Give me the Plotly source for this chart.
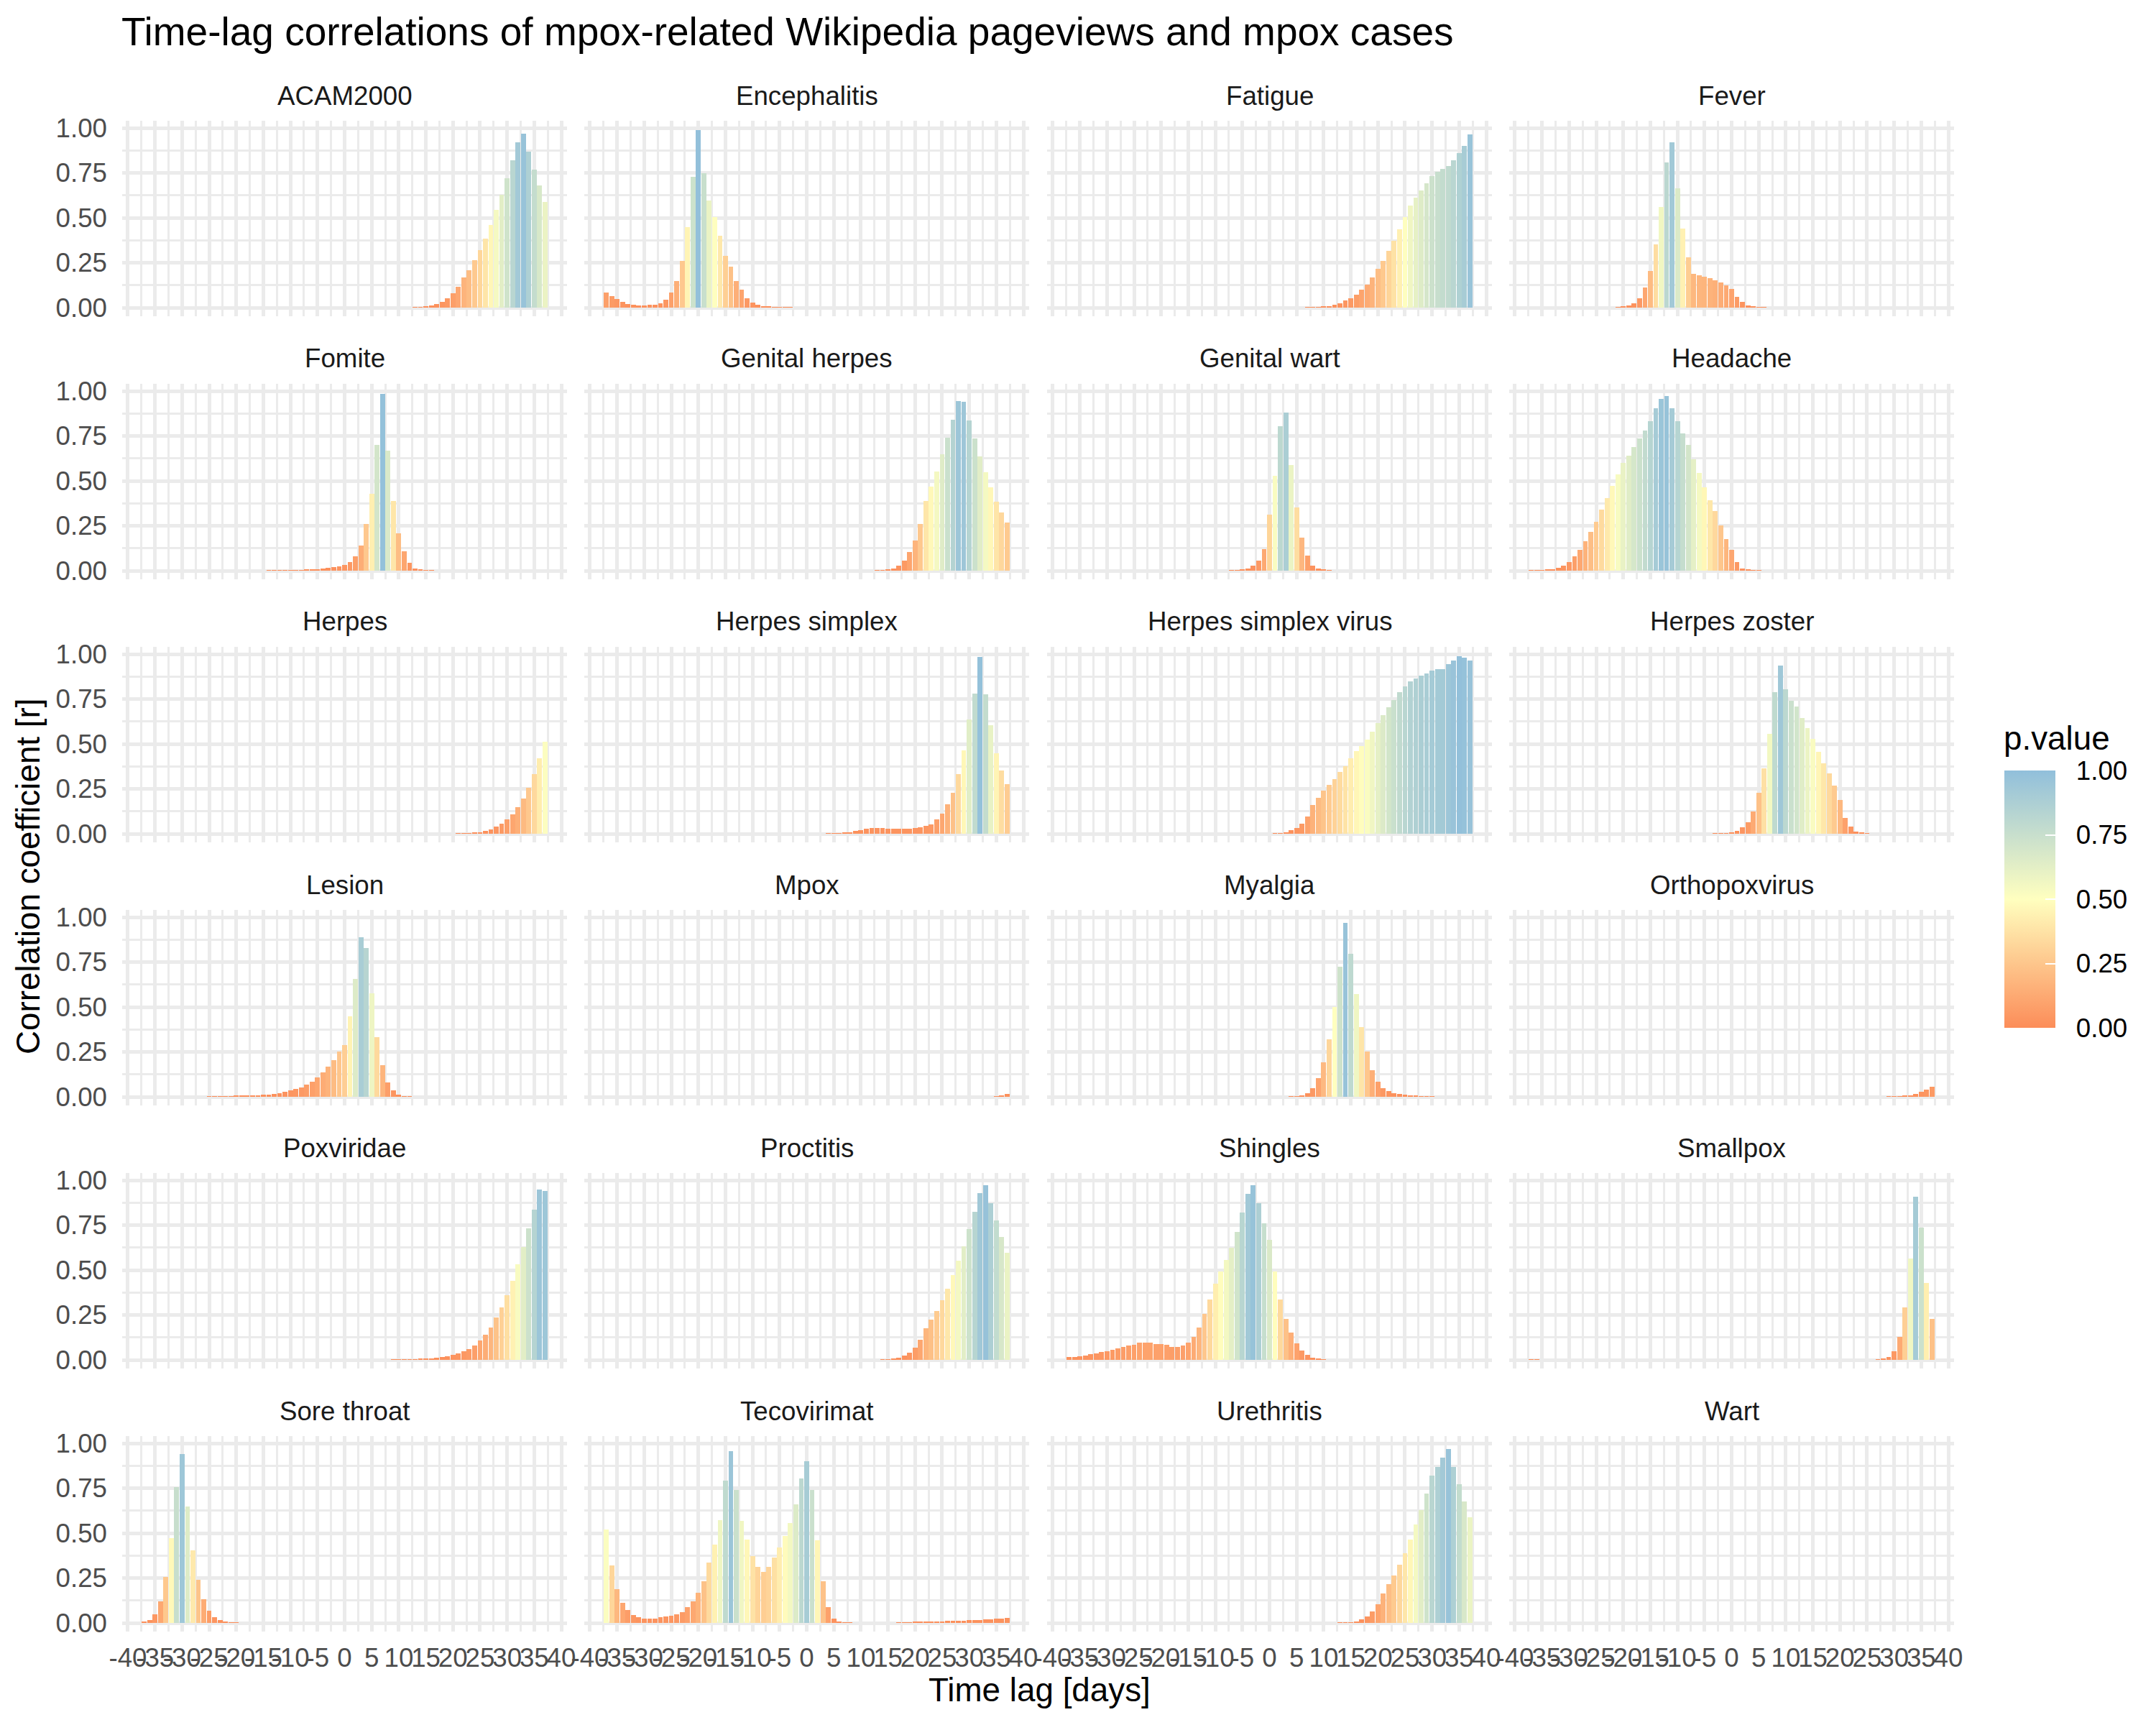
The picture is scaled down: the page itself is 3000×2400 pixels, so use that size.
import plotly.graph_objects as go

# ---------------- data ----------------
LAGS = list(range(-37, 38))  # time lag in days

X_TICKS = [-40, -35, -30, -25, -20, -15, -10, -5, 0, 5, 10, 15, 20, 25, 30, 35, 40]
X_TICK_LABELS = ["-40", "-35", "-30", "-25", "-20", "-15", "-10", "-5", "0",
                 "5", "10", "15", "20", "25", "30", "35", "40"]
Y_TICKS = [0.0, 0.25, 0.5, 0.75, 1.0]
Y_TICK_LABELS = ["0.00", "0.25", "0.50", "0.75", "1.00"]

acam2000 = [0.0] * 50 + [0.001, 0.003, 0.006, 0.012, 0.02, 0.033, 0.054, 0.08, 0.116, 0.17,
                         0.21, 0.265, 0.32, 0.385, 0.46, 0.545, 0.63, 0.72, 0.82, 0.92,
                         0.97, 0.87, 0.77, 0.68, 0.59]
encephalitis = [0.083, 0.066, 0.048, 0.033, 0.021, 0.016, 0.014, 0.014, 0.016, 0.018, 0.025,
                0.043, 0.083, 0.15, 0.26, 0.45, 0.73, 0.99, 0.75, 0.595, 0.506, 0.40, 0.29,
                0.227, 0.15, 0.10, 0.054, 0.03, 0.017, 0.01, 0.006, 0.004, 0.003, 0.002,
                0.001] + [0.0] * 40
fatigue = [0.0] * 44 + [0.001, 0.002, 0.003, 0.006, 0.01, 0.017, 0.025, 0.039, 0.054, 0.074,
                        0.099, 0.13, 0.167, 0.215, 0.262, 0.316, 0.374, 0.436, 0.504, 0.568,
                        0.612, 0.651, 0.692, 0.733, 0.756, 0.773, 0.787, 0.82, 0.862, 0.90,
                        0.963]
fever = [0.0] * 16 + [0.002, 0.005, 0.012, 0.025, 0.054, 0.112, 0.203, 0.351, 0.562, 0.81,
                      0.922, 0.663, 0.44, 0.279, 0.188, 0.18, 0.174, 0.165, 0.153, 0.141,
                      0.124, 0.103, 0.062, 0.031, 0.014, 0.007, 0.003, 0.001] + [0.0] * 31
fomite = [0.0] * 23 + [0.001, 0.001, 0.001, 0.002, 0.002, 0.003, 0.004, 0.005, 0.007, 0.009,
                       0.012, 0.015, 0.019, 0.025, 0.033, 0.05, 0.08, 0.14, 0.26, 0.43,
                       0.70, 0.986, 0.67, 0.39, 0.21, 0.11, 0.043, 0.014, 0.005, 0.002,
                       0.001] + [0.0] * 21
genital_herpes = [0.0] * 50 + [0.001, 0.003, 0.006, 0.013, 0.027, 0.056, 0.105, 0.17, 0.26,
                               0.39, 0.469, 0.552, 0.647, 0.742, 0.84, 0.946, 0.942, 0.837,
                               0.735, 0.637, 0.548, 0.465, 0.386, 0.326, 0.267]
genital_wart = [0.0] * 30 + [0.001, 0.002, 0.005, 0.012, 0.027, 0.058, 0.122, 0.314, 0.527,
                             0.804, 0.882, 0.589, 0.353, 0.186, 0.085, 0.027, 0.012, 0.005,
                             0.002] + [0.0] * 26
headache = [0.001, 0.002, 0.004, 0.006, 0.01, 0.017, 0.029, 0.05, 0.079, 0.118, 0.165, 0.217,
            0.273, 0.339, 0.405, 0.471, 0.535, 0.599, 0.64, 0.69, 0.738, 0.779, 0.831, 0.905,
            0.957, 0.971, 0.905, 0.831, 0.764, 0.70, 0.62, 0.546, 0.463, 0.393, 0.331, 0.252,
            0.178, 0.116, 0.048, 0.014, 0.005, 0.002, 0.001] + [0.0] * 32
herpes = [0.0] * 58 + [0.001, 0.002, 0.004, 0.006, 0.01, 0.017, 0.025, 0.039, 0.056, 0.079,
                       0.11, 0.147, 0.198, 0.258, 0.331, 0.419, 0.514]
herpes_simplex = [0.0] * 41 + [0.001, 0.002, 0.004, 0.006, 0.01, 0.016, 0.021, 0.027, 0.031,
                               0.032, 0.031, 0.03, 0.029, 0.029, 0.029, 0.03, 0.032, 0.036,
                               0.043, 0.054, 0.079, 0.114, 0.163, 0.229, 0.333, 0.463, 0.636,
                               0.78, 0.986, 0.775, 0.605, 0.45, 0.353, 0.277]
herpes_simplex_virus = [0.0] * 38 + [0.002, 0.004, 0.01, 0.019, 0.033, 0.056, 0.095, 0.161,
                                     0.2, 0.24, 0.273, 0.304, 0.343, 0.376, 0.422, 0.459,
                                     0.49, 0.525, 0.568, 0.618, 0.661, 0.703, 0.744, 0.787,
                                     0.82, 0.849, 0.864, 0.88, 0.893, 0.907, 0.917, 0.917,
                                     0.946, 0.965, 0.99, 0.98, 0.965]
herpes_zoster = [0.0] * 34 + [0.001, 0.002, 0.004, 0.008, 0.017, 0.037, 0.064, 0.126, 0.229,
                              0.366, 0.558, 0.79, 0.936, 0.804, 0.742, 0.707, 0.643, 0.587,
                              0.529, 0.455, 0.393, 0.335, 0.267, 0.19, 0.087, 0.039, 0.014,
                              0.005, 0.002] + [0.0] * 12
lesion = [0.0] * 12 + [0.001, 0.001, 0.002, 0.003, 0.004, 0.005, 0.006, 0.007, 0.008, 0.01,
                       0.012, 0.014, 0.017, 0.021, 0.027, 0.035, 0.043, 0.054, 0.068, 0.085,
                       0.109, 0.136, 0.167, 0.205, 0.252, 0.287, 0.448, 0.655, 0.89, 0.828,
                       0.576, 0.333, 0.176, 0.081, 0.035, 0.012, 0.004, 0.001] + [0.0] * 25
mpox = [0.0] * 72 + [0.002, 0.006, 0.016]
myalgia = [0.0] * 41 + [0.001, 0.003, 0.008, 0.021, 0.05, 0.103, 0.194, 0.322, 0.502, 0.723,
                        0.967, 0.795, 0.572, 0.388, 0.252, 0.147, 0.085, 0.05, 0.031, 0.021,
                        0.016, 0.012, 0.009, 0.006, 0.004, 0.002, 0.001] + [0.0] * 7
orthopoxvirus = [0.0] * 66 + [0.001, 0.002, 0.003, 0.006, 0.01, 0.017, 0.027, 0.041, 0.056]
poxviridae = [0.0] * 46 + [0.001, 0.001, 0.002, 0.003, 0.004, 0.005, 0.007, 0.009, 0.012,
                           0.015, 0.019, 0.027, 0.035, 0.047, 0.062, 0.081, 0.11, 0.141, 0.182,
                           0.236, 0.293, 0.36, 0.44, 0.531, 0.63, 0.731, 0.835, 0.95, 0.94]
proctitis = [0.0] * 51 + [0.001, 0.003, 0.007, 0.014, 0.023, 0.041, 0.068, 0.112, 0.178,
                          0.223, 0.271, 0.331, 0.395, 0.471, 0.552, 0.634, 0.729, 0.826, 0.928,
                          0.973, 0.874, 0.777, 0.684, 0.595]
shingles = [0.016, 0.017, 0.019, 0.025, 0.031, 0.037, 0.043, 0.048, 0.056, 0.064, 0.072, 0.079,
            0.085, 0.095, 0.097, 0.095, 0.087, 0.089, 0.085, 0.074, 0.074, 0.081, 0.095, 0.13,
            0.18, 0.256, 0.335, 0.424, 0.492, 0.556, 0.624, 0.713, 0.822, 0.924, 0.971, 0.874,
            0.76, 0.669, 0.492, 0.335, 0.229, 0.151, 0.093, 0.054, 0.027, 0.014, 0.006,
            0.002] + [0.0] * 27
smallpox = [0.004, 0.002] + [0.0] * 62 + [0.002, 0.006, 0.017, 0.048, 0.128, 0.291, 0.566,
                                          0.909, 0.736, 0.428, 0.227]
sore_throat = [0.006, 0.016, 0.049, 0.12, 0.257, 0.473, 0.756, 0.94, 0.65, 0.405, 0.241, 0.134,
               0.068, 0.033, 0.016, 0.007, 0.003, 0.001] + [0.0] * 57
tecovirimat = [0.519, 0.32, 0.188, 0.112, 0.072, 0.043, 0.031, 0.025, 0.023, 0.023, 0.031,
               0.035, 0.041, 0.05, 0.062, 0.089, 0.12, 0.169, 0.231, 0.337, 0.438, 0.572, 0.791,
               0.955, 0.74, 0.57, 0.465, 0.374, 0.312, 0.283, 0.312, 0.364, 0.422, 0.484, 0.556,
               0.659, 0.806, 0.899, 0.742, 0.461, 0.234, 0.087, 0.023, 0.008, 0.003,
               0.001] + [0.0] * 8 + [0.002, 0.003, 0.004, 0.005, 0.006, 0.007, 0.008, 0.009,
                                     0.01, 0.011, 0.012, 0.013, 0.014, 0.015, 0.016, 0.018,
                                     0.019, 0.021, 0.023, 0.025, 0.027]
urethritis = [0.0] * 50 + [0.001, 0.002, 0.004, 0.01, 0.019, 0.035, 0.064, 0.105, 0.163, 0.215,
                           0.266, 0.326, 0.39, 0.463, 0.548, 0.63, 0.721, 0.82, 0.87, 0.92,
                           0.967, 0.87, 0.771, 0.678, 0.589]
wart = [0.0] * 75

TERMS = ["ACAM2000", "Encephalitis", "Fatigue", "Fever",
         "Fomite", "Genital herpes", "Genital wart", "Headache",
         "Herpes", "Herpes simplex", "Herpes simplex virus", "Herpes zoster",
         "Lesion", "Mpox", "Myalgia", "Orthopoxvirus",
         "Poxviridae", "Proctitis", "Shingles", "Smallpox",
         "Sore throat", "Tecovirimat", "Urethritis", "Wart"]
SERIES = [acam2000, encephalitis, fatigue, fever,
          fomite, genital_herpes, genital_wart, headache,
          herpes, herpes_simplex, herpes_simplex_virus, herpes_zoster,
          lesion, mpox, myalgia, orthopoxvirus,
          poxviridae, proctitis, shingles, smallpox,
          sore_throat, tecovirimat, urethritis, wart]

TITLE = "Time-lag correlations of mpox-related Wikipedia pageviews and mpox cases"
X_TITLE = "Time lag [days]"
Y_TITLE = "Correlation coefficient [r]"
LEGEND_TITLE = "p.value"

for s in SERIES:
    assert len(s) == len(LAGS)

# ---------------- layout geometry ----------------
W, H = 3000, 2400
NCOL, NROW = 4, 6
COL_LEFT = [170, 813, 1457, 2100]
PANEL_W = 619
ROW_TOP0, ROW_PITCH, PANEL_H = 168, 366, 272
FONT = "Liberation Sans, Arial, Helvetica, sans-serif"
GRID = "#EBEBEB"
COLORSCALE = [[0.0, "#FC8D59"], [0.5, "#FFFFBF"], [1.0, "#91BFDB"]]

X_MINOR = [(a + b) / 2 for a, b in zip(X_TICKS[:-1], X_TICKS[1:])]
Y_MINOR = [(a + b) / 2 for a, b in zip(Y_TICKS[:-1], Y_TICKS[1:])]

fig = go.Figure()
layout = {}
annotations = []

for i, (name, vals) in enumerate(zip(TERMS, SERIES)):
    r, c = divmod(i, NCOL)
    n = i + 1
    xa = "x" if n == 1 else f"x{n}"
    ya = "y" if n == 1 else f"y{n}"
    cax = "coloraxis2" if i == len(TERMS) - 1 else "coloraxis"
    fig.add_trace(go.Bar(
        x=LAGS, y=vals, width=0.9,
        marker=dict(color=vals, coloraxis=cax, line=dict(width=0)),
        xaxis=xa, yaxis=ya, showlegend=False,
        hovertemplate=name + "<br>lag %{x}: r=%{y}<extra></extra>",
    ))
    left = COL_LEFT[c]
    top = ROW_TOP0 + r * ROW_PITCH
    xdom = [left / W, (left + PANEL_W) / W]
    ydom = [1 - (top + PANEL_H) / H, 1 - top / H]
    xkey = "xaxis" if n == 1 else f"xaxis{n}"
    ykey = "yaxis" if n == 1 else f"yaxis{n}"
    layout[xkey] = dict(
        domain=xdom, anchor=ya, range=[-41.06, 41.06],
        tickmode="array", tickvals=X_TICKS, ticktext=X_TICK_LABELS,
        showticklabels=(r == NROW - 1), tickangle=0,
        tickfont=dict(size=36.7, color="#4D4D4D", family=FONT),
        ticks="", ticklabelstandoff=11,
        showgrid=True, gridcolor=GRID, gridwidth=5,
        minor=dict(tickmode="array", tickvals=X_MINOR, showgrid=True,
                   gridcolor=GRID, gridwidth=2.8, ticks=""),
        zeroline=False, showline=False, fixedrange=True,
    )
    layout[ykey] = dict(
        domain=ydom, anchor=xa, range=[-0.048, 1.04],
        tickmode="array", tickvals=Y_TICKS, ticktext=Y_TICK_LABELS,
        showticklabels=(c == 0),
        tickfont=dict(size=36.7, color="#4D4D4D", family=FONT),
        ticks="", ticklabelstandoff=20,
        showgrid=True, gridcolor=GRID, gridwidth=5,
        minor=dict(tickmode="array", tickvals=Y_MINOR, showgrid=True,
                   gridcolor=GRID, gridwidth=2.8, ticks=""),
        zeroline=False, showline=False, fixedrange=True,
    )
    annotations.append(dict(
        text=name, xref="paper", yref="paper",
        x=(left + PANEL_W / 2) / W, y=1 - (top - 35) / H,
        xanchor="center", yanchor="middle", showarrow=False,
        font=dict(size=36.7, color="#1A1A1A", family=FONT),
    ))

annotations.append(dict(
    text=TITLE, xref="paper", yref="paper", x=167 / W, y=1 - 44 / H,
    xanchor="left", yanchor="middle", showarrow=False,
    font=dict(size=55, color="#000000", family=FONT),
))
annotations.append(dict(
    text=X_TITLE, xref="paper", yref="paper", x=1446 / W, y=1 - 2351 / H,
    xanchor="center", yanchor="middle", showarrow=False,
    font=dict(size=45.8, color="#000000", family=FONT),
))
annotations.append(dict(
    text=Y_TITLE, xref="paper", yref="paper", x=39 / W, y=1 - 1219 / H,
    xanchor="center", yanchor="middle", showarrow=False, textangle=-90,
    font=dict(size=45.8, color="#000000", family=FONT),
))
annotations.append(dict(
    text=LEGEND_TITLE, xref="paper", yref="paper", x=2786 / W, y=1 - 1027 / H,
    xanchor="left", yanchor="middle", showarrow=False,
    font=dict(size=45.8, color="#000000", family=FONT),
))

BAR_TOP, BAR_BOTTOM = 1072, 1430
common_cb = dict(
    x=2789 / W, xanchor="left", xref="paper", yref="paper",
    y=1 - (BAR_TOP + BAR_BOTTOM) / 2 / H, yanchor="middle",
    len=(BAR_BOTTOM - BAR_TOP) / H, lenmode="fraction",
    thickness=71, thicknessmode="pixels",
    outlinewidth=0, borderwidth=0, xpad=0, ypad=0,
    tickmode="array", tickvals=Y_TICKS, ticktext=Y_TICK_LABELS,
)

fig.update_layout(
    width=W, height=H,
    margin=dict(l=0, r=0, t=0, b=0, autoexpand=False),
    paper_bgcolor="white", plot_bgcolor="white",
    font=dict(family=FONT, color="#000000"),
    bargap=0,
    coloraxis=dict(
        cmin=0, cmax=1, colorscale=COLORSCALE,
        colorbar=dict(
            **common_cb,
            ticks="outside", ticklen=22, tickwidth=1, tickcolor="rgba(255,255,255,0)",
            tickfont=dict(size=36.7, color="#000000", family=FONT),
        ),
    ),
    coloraxis2=dict(
        cmin=0, cmax=1, colorscale=COLORSCALE,
        colorbar=dict(
            **common_cb,
            ticks="inside", ticklen=14, tickwidth=2, tickcolor="white",
            showticklabels=False,
        ),
    ),
    annotations=annotations,
    **layout,
)

PAGE_FIX = ("document.documentElement.style.margin='0';"
            "document.documentElement.style.padding='0';"
            "document.documentElement.style.overflow='hidden';"
            "document.body.style.margin='0';"
            "document.body.style.padding='0';"
            "document.body.style.overflow='hidden';")

fig.write_html("out.html", post_script=PAGE_FIX)
